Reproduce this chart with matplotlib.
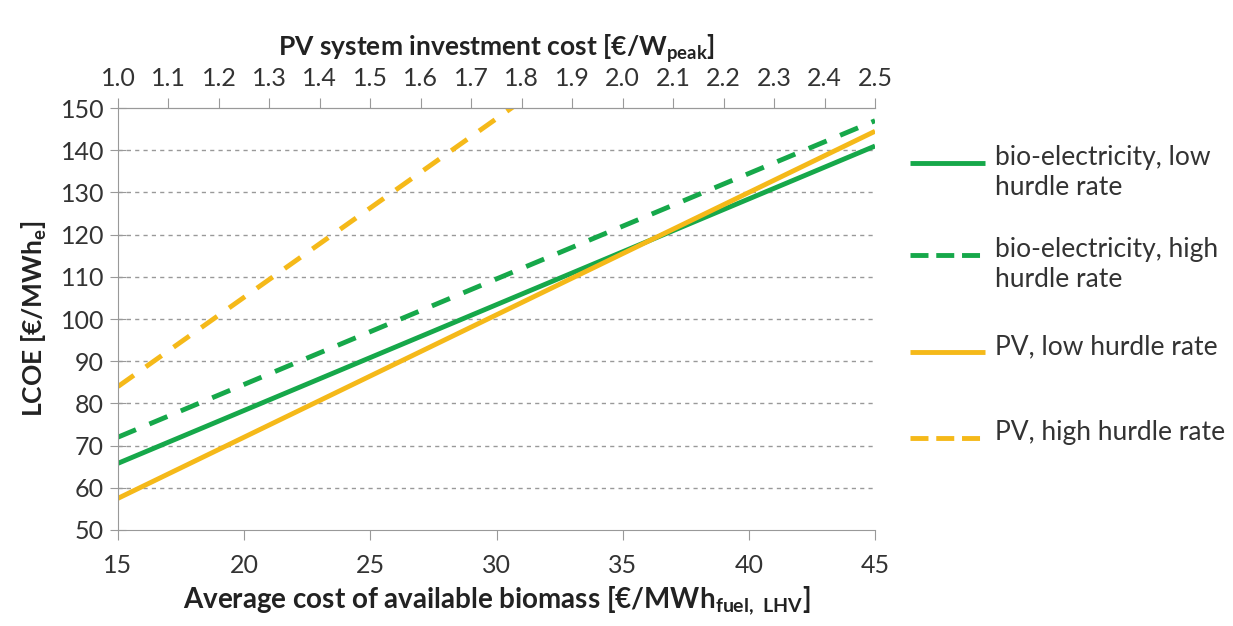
import numpy as np
import matplotlib.pyplot as plt
from matplotlib.lines import Line2D

plt.rcParams['font.family'] = ['Lato', 'DejaVu Sans']
plt.rcParams['mathtext.default'] = 'regular'

# biomass cost axis (bottom) and PV investment cost axis (top)
biomass_cost = [15, 45]
pv_cost = [1.0, 2.5]

bio_low = [65.8, 141]
bio_high = [72, 147]
pv_low = [57.5, 144.5]
pv_high = [84, 211]

labels = ['bio-electricity, low\nhurdle rate',
          'bio-electricity, high\nhurdle rate',
          'PV, low hurdle rate',
          'PV, high hurdle rate']

green = '#16a84a'
yellow = '#f5b919'
dash = (0, (4, 3))


def pv_to_bio(p):
    return 15 + (np.asarray(p) - 1.0) * 20


def bio_to_pv(b):
    return 1.0 + (np.asarray(b) - 15) / 20


W, H = 1233, 626
fig = plt.figure(figsize=(W / 100, H / 100), dpi=100)
ax = fig.add_axes([0.0957, 0.1534, 0.614, 0.674])

lines = []
lines += ax.plot(biomass_cost, bio_low, color=green, lw=3.5, solid_capstyle='butt')
lines += ax.plot(biomass_cost, bio_high, color=green, lw=3.5, ls=dash)
lines += ax.plot(pv_to_bio(pv_cost), pv_low, color=yellow, lw=3.5, solid_capstyle='butt')
lines += ax.plot(pv_to_bio(pv_cost), pv_high, color=yellow, lw=3.5, ls=dash)

ax.set_xlim(15, 45)
ax.set_ylim(50, 150)
ax.set_xticks(range(15, 46, 5))
ax.set_yticks(range(50, 151, 10))

for y in range(60, 150, 10):
    ax.axhline(y, color='#999999', lw=1, ls=(0, (3, 3)), zorder=0)

for s in ['left', 'bottom', 'top']:
    ax.spines[s].set_color('#999999')
ax.spines['right'].set_visible(False)

ax.tick_params(axis='y', direction='inout', length=12, color='#999999',
               labelsize=18, labelcolor='#333333', pad=4)
ax.tick_params(axis='x', direction='out', length=7, color='#999999',
               labelsize=18, labelcolor='#333333', pad=10)

ax.set_xlabel('Average cost of available biomass [€/MWh$_{fuel,\\ LHV}$]',
              fontsize=20, fontweight='bold', color='#222222', labelpad=6)
ax.set_ylabel('LCOE [€/MWh$_e$]', fontsize=19, fontweight='bold',
              color='#222222', labelpad=8)

top = ax.secondary_xaxis('top', functions=(bio_to_pv, pv_to_bio))
top.set_xticks(np.round(np.arange(1.0, 2.51, 0.1), 1))
top.set_xticklabels(['%.1f' % v for v in np.arange(1.0, 2.51, 0.1)])
top.tick_params(direction='out', length=7, color='#999999',
                labelsize=18, labelcolor='#333333', pad=6)
top.spines['top'].set_color('#999999')
top.set_xlabel('PV system investment cost [€/W$_{peak}$]', fontsize=19,
               fontweight='bold', color='#222222', labelpad=8)

# legend drawn by hand so the key sits on the first text line
entry_y = [163, 255, 352, 438]
for ln, lab, py in zip(lines, labels, entry_y):
    fy = 1 - py / H
    fig.add_artist(Line2D([910 / W, 985 / W], [fy, fy], color=ln.get_color(),
                          lw=3.5, ls=ln.get_linestyle(), solid_capstyle='butt',
                          transform=fig.transFigure))
    fig.text(995 / W, 1 - (py - 18) / H, lab, fontsize=19, color='#333333',
             va='top', ha='left', linespacing=1.25)

fig.savefig('out.png', dpi=100)
